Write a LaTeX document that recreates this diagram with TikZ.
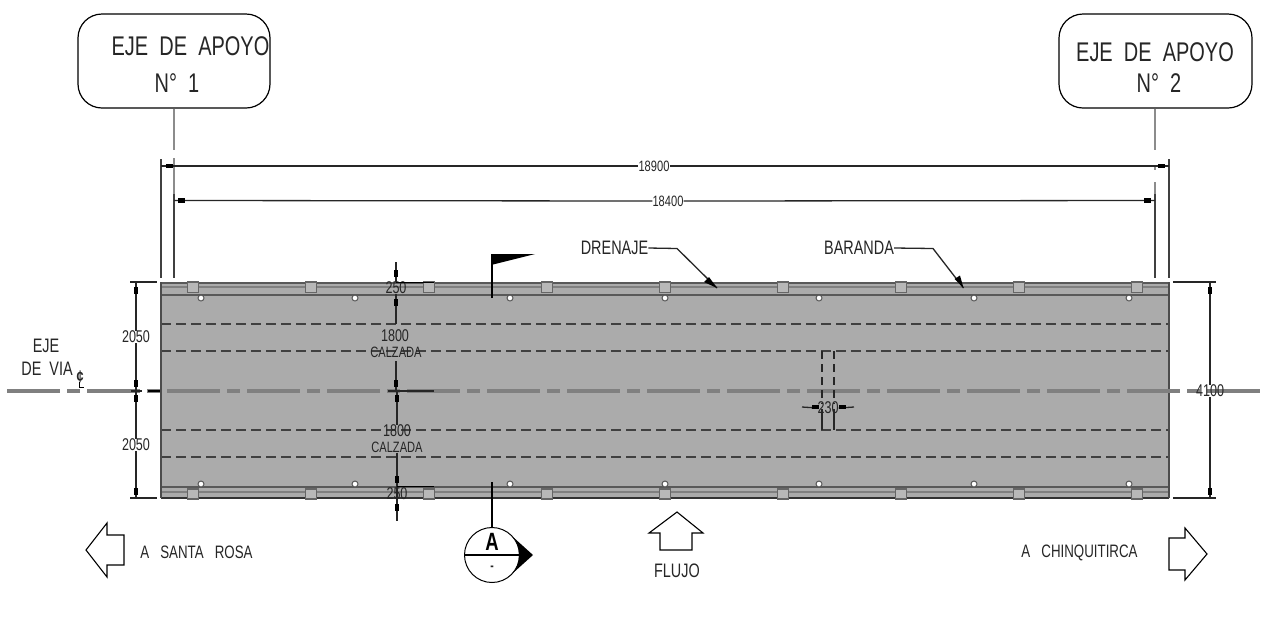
\documentclass[tikz,border=0pt]{standalone}
\usepackage{fontspec}
\setmainfont[FakeStretch=0.74]{Liberation Sans}
\tikzset{
 x=1pt,y=-1pt,
 lbl/.style={inner sep=0pt,text=black!85},
 big/.style={lbl,font=\fontsize{27}{29}\selectfont},
 mid/.style={lbl,font=\fontsize{19.5}{21}\selectfont},
 low/.style={lbl,font=\fontsize{18}{20}\selectfont},
 small/.style={lbl,font=\fontsize{17}{19}\selectfont},
 overall/.style={lbl,font=\fontsize{15}{17}\selectfont},
 tiny/.style={lbl,font=\fontsize{15}{17}\selectfont},
 dim/.style={draw=black!85,line width=1.3pt},
 ext/.style={draw=black!75,line width=1.5pt},
 band/.style={draw=black!65,line width=2pt},
 dashedline/.style={draw=black!75,line width=1.3pt,dash pattern=on 10pt off 5pt},
 axis/.style={draw=black!50,line width=3.5pt,dash pattern=on 53pt off 7pt on 13pt off 7pt},
 axisthin/.style={draw=black!45,line width=1.2pt},
 post/.style={draw=black!60,fill=black!28,line width=1.2pt},
 hole/.style={draw=black!65,fill=white,line width=1pt},
 bubble/.style={draw=black,line width=1.2pt,rounded corners=24pt},
 hollow/.style={draw=black,line width=1.1pt,line join=miter},
}
\newcommand{\vmark}[2]{\fill[black] (#1-2.2,#2-3.5) rectangle (#1+2.2,#2+3.5);}
\newcommand{\hmark}[2]{\fill[black] (#1-3.5,#2-2.2) rectangle (#1+3.5,#2+2.2);}
\begin{document}
\begin{tikzpicture}
\useasboundingbox (0,0) rectangle (1288,625);
\fill[white] (0,0) rectangle (1288,625);
% deck
\fill[black!33] (161,282) rectangle (1169,498);
\foreach \y in {324,351,430,457} \path[dashedline] (161,\y) -- (1169,\y);
\draw[band] (161,283) -- (1169,283);
\draw[draw=black!50,line width=2pt] (161,287) -- (1169,287);
\draw[band] (161,294.5) -- (1169,294.5);
\draw[band] (161,486.5) -- (1169,486.5);
\draw[draw=black!50,line width=2pt] (161,492) -- (1169,492);
\draw[draw=black!80,line width=2pt] (161,497.5) -- (1169,497.5);
\draw[draw=black!70,line width=1.5pt] (161,282) -- (161,498) (1169,282) -- (1169,498);
\foreach \x in {193,311,429,547,665,783,901,1019,1137} {
 \path[post] (\x-5.5,282) rectangle (\x+5.5,292.5);
 \path[post] (\x-5.5,489) rectangle (\x+5.5,499);
}
\foreach \x in {201,355,510,665,819,974,1129} {
 \path[hole] (\x,298) circle (3);
 \path[hole] (\x,484) circle (3);
}
% axis
\path[axis] (7,391) -- (1265,391);
\draw[black,line width=1.4pt] (148,391) -- (160,391);
% leaders of the support axes
\node[bubble,minimum width=192pt,minimum height=94pt,inner sep=0pt] (b1) at (174,61) {};
\node[bubble,minimum width=193pt,minimum height=94pt,inner sep=0pt] (b2) at (1155.5,61) {};
\node[big] (b1a) at (190.5,46) {EJE\ \ DE\ \ APOYO};
\node[big] (b1b) at (177,83) {N°\ \ 1};
\node[big] (b2a) at (1155,52) {EJE\ \ DE\ \ APOYO};
\node[big] (b2b) at (1159,83) {N°\ \ 2};
\coordinate (l1a) at (174,150); \coordinate (l2a) at (1155,150);
\draw[axisthin] (b1.south -| l1a) -- (l1a);
\draw[axisthin] (b2.south -| l2a) -- (l2a);
\draw[axisthin] (174,158) -- (174,194) (1155,165) -- (1155,170) (1155,182) -- (1155,194);
% extension lines
\draw[ext] (161,159) -- (161,278) (174,194) -- (174,278) (1155,194) -- (1155,278) (1169,159) -- (1169,278);
% overall dimensions
\node[overall] (d1) at (654,166) {18900};
\node[overall] (d2) at (668,201) {18400};
\draw[dim] (161,166) -- (d1.west) (d1.east) -- (1169,166);
\draw[dim] (174,200.5) -- (d2.west) (d2.east) -- (1155,200.5);
\hmark{169}{166} \hmark{1161.5}{166} \hmark{181}{200.5} \hmark{1147.5}{200.5}
% left dimension
\node[small] (d3) at (136,337) {2050};
\node[small] (d4) at (136,445) {2050};
\draw[dim] (130,282) -- (157,282) (130,498) -- (157,498) (131,391) -- (142,391);
\draw[dim] (136,282) -- (d3.north) (d3.south) -- (136,391) -- (d4.north) (d4.south) -- (136,498);
\vmark{136}{290} \vmark{136}{383} \vmark{136}{398} \vmark{136}{491}
% right dimension
\node[small] (d5) at (1210,391) {4100};
\draw[dim] (1173,282) -- (1216,282) (1173,498) -- (1216,498);
\draw[dim] (1210,282) -- (d5.north) (d5.south) -- (1210,498);
\vmark{1210}{290} \vmark{1210}{491}
% central dimensions
\node[small] (c1) at (396,288) {250};
\node[small] (c2) at (395,336) {1800};
\node[tiny] (c3) at (396,352) {CALZADA};
\node[small] (c4) at (397,431) {1800};
\node[tiny] (c5) at (397,447) {CALZADA};
\node[small] (c6) at (397,494) {250};
\draw[dim] (396,262) -- (c1.north) (c1.south) -- (396,324);
\draw[dim] (396,361) -- (396,391) -- (397,391) -- (c4.north);
\draw[dim] (c5.south) -- (397,521);
\draw[dim] (388,391) -- (434,391);
\draw[black,line width=.8pt] (396,282.5) -- (434,282.5) (397,486) -- (434,486);
\vmark{396}{273} \vmark{396}{302} \vmark{396}{383} \vmark{397}{398} \vmark{397}{479} \vmark{397}{507}
% flag
\draw[black,line width=2.5pt] (492,298) -- (492,254);
\fill[black] (491,254) -- (535,254) -- (491,265) -- cycle;
% section mark
\node[circle,draw=black,line width=1pt,minimum size=55pt,inner sep=0pt] (sec) at (492,555) {};
\coordinate (sectop) at (492,482);
\draw[black,line width=2.5pt] (sectop) -- (sec.north);
\draw[black,line width=1.2pt] (sec.west) -- (sec.east);
\fill[black] (513,537) -- (533,555) -- (513,573) .. controls (521,564) and (521,546) .. (513,537) -- cycle;
\node[lbl,font=\bfseries\fontsize{25}{27}\selectfont,text=black] (seca) at (492,542) {A};
\node[lbl,font=\bfseries\fontsize{14}{16}\selectfont] (secb) at (492,568) {-};
% inner small dimension
\draw[dim,dash pattern=on 8pt off 5pt] (822,351) -- (822,404) (834,351) -- (834,404);
\draw[dim] (822,409) -- (822,430) (834,409) -- (834,430);
\node[small] (c7) at (828,408) {230};
\draw[dim] (802,407) -- (c7.west) (c7.east) -- (854,407);
\hmark{815}{407} \hmark{842}{407}
% leaders
\node[mid] (dr) at (614.5,248) {DRENAJE};
\node[mid] (ba) at (859,248) {BARANDA};
\coordinate (dr1) at (677,248.5); \coordinate (dr2) at (717,288);
\coordinate (ba1) at (933,248.5); \coordinate (ba2) at (963.5,288);
\draw[dim] (dr.east) -- (dr1) -- (dr2);
\draw[dim] (ba.east) -- (ba1) -- (ba2);
\fill[black] (dr2) -- ++(-13,-6) -- ++(5,-5) -- cycle;
\fill[black] (ba2) -- ++(-9,-9) -- ++(5.5,-3.5) -- cycle;
% side labels
\node[mid] (ej) at (46,346) {EJE};
\node[mid] (dv) at (47,369) {DE\ \ VIA};
\node[lbl,font=\fontsize{17}{19}\bfseries\selectfont] (cl) at (80,377) {¢};
\draw[black,line width=1.2pt] (cl.south) ++(-.5,-1) -- ++(0,5) -- ++(4,0);
% direction arrows
\draw[hollow] (86,550) -- (107,523) -- (107,535) -- (124,535) -- (124,565) -- (107,565) -- (107,577) -- cycle;
\draw[hollow] (677,512) -- (703,533) -- (692,533) -- (692,550) -- (660,550) -- (660,533) -- (649,533) -- cycle;
\draw[hollow] (1207,554) -- (1185,528) -- (1185,538) -- (1169,538) -- (1169,570) -- (1185,570) -- (1185,580) -- cycle;
\node[low] (sr) at (196.5,552) {A\ \ \ SANTA\ \ \ ROSA};
\node[mid] (fl) at (677,571) {FLUJO};
\node[low] (ch) at (1079.5,553) {A\ \ \ CHINQUITIRCA};
\end{tikzpicture}
\end{document}
